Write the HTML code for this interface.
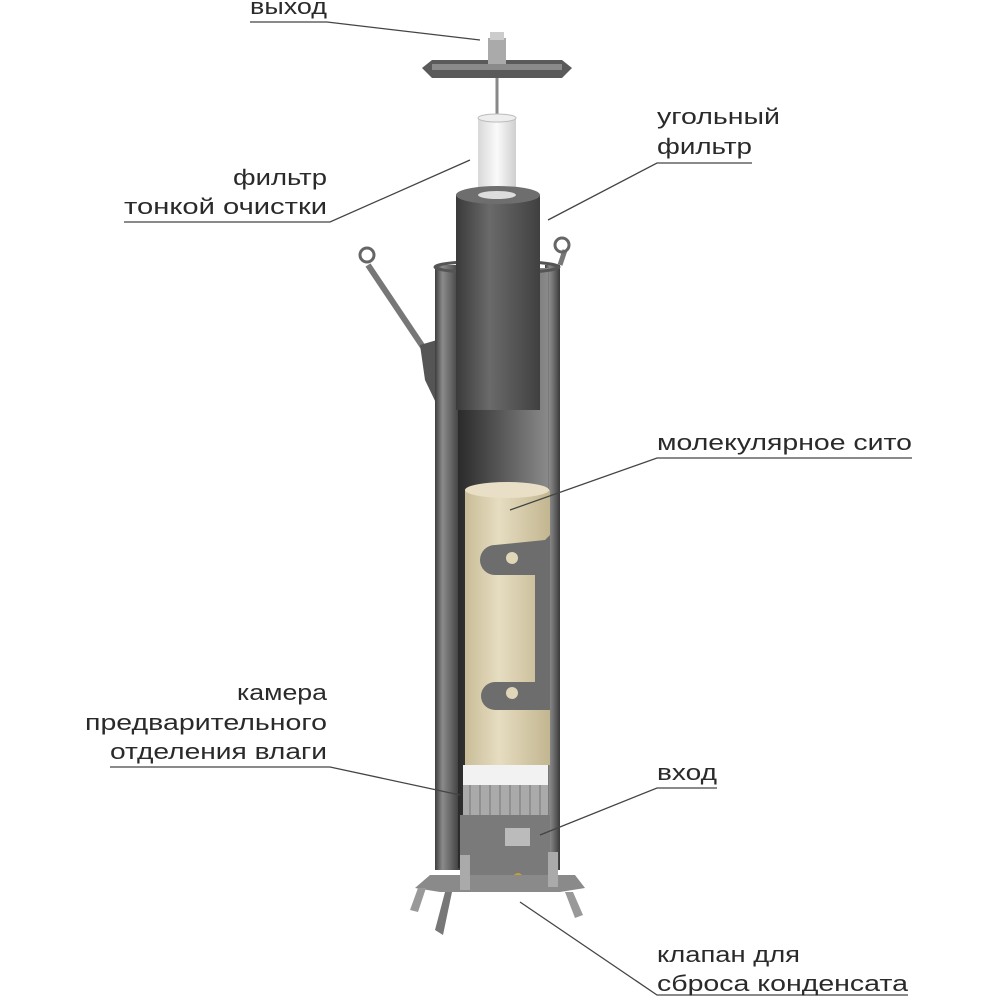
<!DOCTYPE html>
<html><head><meta charset="utf-8"><style>
html,body{margin:0;padding:0;background:#fff;}
svg{display:block}
text{font-family:"Liberation Sans",sans-serif;font-size:22px;fill:#2a2a2a}
</style></head><body>
<svg width="1000" height="1000" viewBox="0 0 1000 1000" xmlns="http://www.w3.org/2000/svg">
<defs>
<linearGradient id="tube" x1="0" x2="1">
<stop offset="0" stop-color="#3e3e3e"/><stop offset="0.3" stop-color="#8a8a8a"/><stop offset="0.6" stop-color="#6a6a6a"/><stop offset="1" stop-color="#3a3a3a"/></linearGradient>
<linearGradient id="inner" x1="0" x2="1">
<stop offset="0" stop-color="#2a2a2a"/><stop offset="0.5" stop-color="#5a5a5a"/><stop offset="1" stop-color="#8a8a8a"/></linearGradient>
<linearGradient id="carbon" x1="0" x2="1">
<stop offset="0" stop-color="#3a3a3a"/><stop offset="0.4" stop-color="#6a6a6a"/><stop offset="1" stop-color="#404040"/></linearGradient>
<linearGradient id="sieve" x1="0" x2="1">
<stop offset="0" stop-color="#c9bd98"/><stop offset="0.4" stop-color="#e6dcc0"/><stop offset="1" stop-color="#c2b690"/></linearGradient>
<linearGradient id="white" x1="0" x2="1">
<stop offset="0" stop-color="#d8d8d8"/><stop offset="0.5" stop-color="#fafafa"/><stop offset="1" stop-color="#cfcfcf"/></linearGradient>
</defs>

<line x1="368" y1="265" x2="425" y2="350" stroke="#777" stroke-width="6"/>
<circle cx="367" cy="255" r="7" fill="none" stroke="#666" stroke-width="3"/>
<polygon points="420,345 437,340 437,405 425,380" fill="#555"/>
<line x1="560" y1="265" x2="565" y2="250" stroke="#777" stroke-width="5"/>
<circle cx="562" cy="245" r="7" fill="none" stroke="#666" stroke-width="3"/>

<rect x="435" y="265" width="25" height="605" fill="url(#tube)"/>
<rect x="545" y="265" width="15" height="605" fill="url(#tube)"/>
<rect x="458" y="268" width="90" height="600" fill="url(#inner)"/>
<ellipse cx="497" cy="267" rx="62" ry="6" fill="none" stroke="#555" stroke-width="3"/>

<polygon points="422,68 432,60 562,60 572,68 562,78 432,78" fill="#5a5a5a"/>
<rect x="432" y="64" width="130" height="6" fill="#8a8a8a"/>
<rect x="488" y="38" width="18" height="26" fill="#aaa"/>
<rect x="490" y="32" width="14" height="8" fill="#ccc"/>
<line x1="497" y1="78" x2="497" y2="115" stroke="#888" stroke-width="3"/>

<rect x="478" y="118" width="38" height="85" fill="url(#white)"/>
<ellipse cx="497" cy="118" rx="19" ry="4" fill="#eee" stroke="#bbb"/>
<rect x="456" y="195" width="84" height="215" fill="url(#carbon)"/>
<ellipse cx="498" cy="195" rx="42" ry="9" fill="#6e6e6e"/>
<ellipse cx="497" cy="195" rx="19" ry="4" fill="#ddd"/>

<rect x="465" y="490" width="85" height="275" fill="url(#sieve)"/>
<ellipse cx="507" cy="490" rx="42" ry="8" fill="#e8dfc6"/>
<path d="M495 545 L545 540 L550 535 L550 710 L495 710 A14 14 0 0 1 495 682 L535 682 L535 575 L495 575 A14 14 0 0 1 495 545 Z" fill="#6d6d6d"/>
<circle cx="512" cy="558" r="6" fill="#e0d6b8"/>
<circle cx="512" cy="693" r="6" fill="#e0d6b8"/>

<rect x="463" y="765" width="85" height="20" fill="#f2f2f2"/>
<rect x="463" y="785" width="85" height="30" fill="#aaa"/>
<g stroke="#777" stroke-width="1"><line x1="470" y1="785" x2="470" y2="815"/><line x1="480" y1="785" x2="480" y2="815"/><line x1="490" y1="785" x2="490" y2="815"/><line x1="500" y1="785" x2="500" y2="815"/><line x1="510" y1="785" x2="510" y2="815"/><line x1="520" y1="785" x2="520" y2="815"/><line x1="530" y1="785" x2="530" y2="815"/><line x1="540" y1="785" x2="540" y2="815"/></g>
<rect x="460" y="815" width="90" height="60" fill="#7a7a7a"/>
<rect x="505" y="828" width="25" height="18" fill="#bbb"/>
<circle cx="518" cy="878" r="5" fill="#c9a030"/>

<polygon points="415,888 430,875 575,875 585,888 560,892 440,892" fill="#8a8a8a"/>
<polygon points="410,910 418,888 426,888 418,912" fill="#999"/>
<polygon points="435,930 445,892 452,892 443,935" fill="#777"/>
<polygon points="575,918 565,892 573,892 583,915" fill="#999"/>
<rect x="460" y="855" width="10" height="35" fill="#aaa"/>
<rect x="548" y="852" width="10" height="35" fill="#aaa"/>

<g stroke="#444" stroke-width="1.3" fill="none">
<polyline points="250,22 327,22 480,40"/>
<polyline points="752,163 657,163 548,220"/>
<polyline points="124,222 330,222 470,160"/>
<polyline points="912,458 657,458 510,510"/>
<polyline points="110,767 330,767 460,795"/>
<polyline points="717,788 657,788 540,835"/>
<polyline points="520,902 657,995 908,995"/>
</g>

<text x="250" y="14" textLength="77" lengthAdjust="spacingAndGlyphs">выход</text>
<text x="657" y="124" textLength="123" lengthAdjust="spacingAndGlyphs">угольный</text>
<text x="657" y="154" textLength="95" lengthAdjust="spacingAndGlyphs">фильтр</text>
<text x="233" y="185" textLength="94" lengthAdjust="spacingAndGlyphs">фильтр</text>
<text x="124" y="214" textLength="203" lengthAdjust="spacingAndGlyphs">тонкой очистки</text>
<text x="657" y="450" textLength="255" lengthAdjust="spacingAndGlyphs">молекулярное сито</text>
<text x="237" y="700" textLength="90" lengthAdjust="spacingAndGlyphs">камера</text>
<text x="85" y="730" textLength="242" lengthAdjust="spacingAndGlyphs">предварительного</text>
<text x="110" y="759" textLength="217" lengthAdjust="spacingAndGlyphs">отделения влаги</text>
<text x="657" y="780" textLength="60" lengthAdjust="spacingAndGlyphs">вход</text>
<text x="657" y="962" textLength="143" lengthAdjust="spacingAndGlyphs">клапан для</text>
<text x="657" y="991" textLength="251" lengthAdjust="spacingAndGlyphs">сброса конденсата</text>
</svg>
</body></html>
